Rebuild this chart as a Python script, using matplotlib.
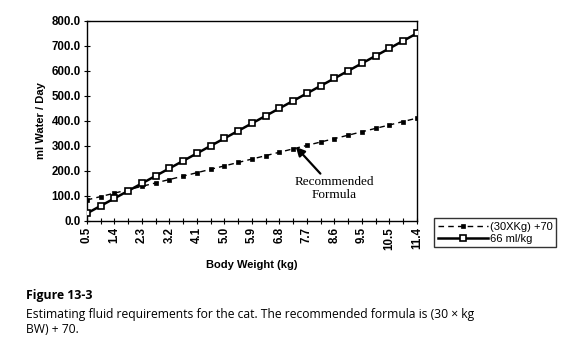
import matplotlib
matplotlib.use("Agg")
import matplotlib.pyplot as plt

# Body weight categories (kg) and the two fluid requirement series (ml/day)
tick_labels = ["0.5", "", "1.4", "", "2.3", "", "3.2", "", "4.1", "", "5.0", "", "5.9",
               "", "6.8", "", "7.7", "", "8.6", "", "9.5", "", "10.5", "", "11.4"]
formula_ml = [83.6, 97.3, 110.9, 124.5, 138.2, 151.8, 165.5, 179.1, 192.7, 206.4,
              220.0, 233.6, 247.3, 260.9, 274.5, 288.2, 301.8, 315.5, 329.1, 342.7,
              356.4, 370.0, 383.6, 397.3, 410.9]
per_kg_ml = [30.0, 60.0, 90.0, 120.0, 150.0, 180.0, 210.0, 240.0, 270.0, 300.0,
             330.0, 360.0, 390.0, 420.0, 450.0, 480.0, 510.0, 540.0, 570.0, 600.0,
             630.0, 660.0, 690.0, 720.0, 750.0]

plt.rcParams['font.family'] = ['Liberation Sans', 'DejaVu Sans']

fig = plt.figure(figsize=(5.83, 3.54), dpi=100)
ax = fig.add_axes([0.149, 0.376, 0.566, 0.565])

idx = list(range(len(tick_labels)))
l1, = ax.plot(idx, formula_ml, color='black', lw=1.0, ls=(0, (4, 3)),
              marker='s', markersize=2.4, markerfacecolor='black', markeredgewidth=0.5,
              label='(30XKg) +70')
l2, = ax.plot(idx, per_kg_ml, color='black', lw=1.8,
              marker='s', markersize=5, markerfacecolor='white', markeredgecolor='black',
              markeredgewidth=1.2, label='66 ml/kg', zorder=3)

ax.set_xlim(0, len(idx) - 1)
ax.set_ylim(0, 800)
ax.set_yticks(range(0, 801, 100))
ax.set_yticklabels([f"{v:.1f}" for v in range(0, 801, 100)], fontsize=8.3, fontweight='bold')
ax.set_xticks(idx)
ax.set_xticklabels(tick_labels, rotation=90, fontsize=8.3, fontweight='bold')
ax.tick_params(axis='both', direction='inout', length=5, width=0.8, pad=2)
for s in ax.spines.values():
    s.set_linewidth(1.0)

ax.set_ylabel('ml Water / Day', fontsize=8, fontweight='bold', labelpad=4)
ax.set_xlabel('Body Weight (kg)', fontsize=8, fontweight='bold', labelpad=7)

ax.annotate('Recommended\nFormula', xy=(15.2, 296), xytext=(18.0, 178),
            ha='center', va='top', fontsize=9.5, family='Liberation Serif',
            linespacing=1.1,
            arrowprops=dict(arrowstyle='-|>', color='black', lw=1.6,
                            mutation_scale=13, shrinkA=0, shrinkB=0))

fig.legend(handles=[l1, l2], loc='upper left', bbox_to_anchor=(0.745, 0.383),
           fontsize=8, frameon=True, fancybox=False, edgecolor='black',
           handlelength=4.5, handletextpad=0.2, borderpad=0.3, labelspacing=0.2,
           borderaxespad=0)

fig.text(0.045, 0.155, 'Figure 13-3', fontsize=8.8, fontweight='bold', family='Open Sans')
fig.text(0.045, 0.06, 'Estimating fluid requirements for the cat. The recommended formula is (30 \u00d7 kg\nBW) + 70.',
         fontsize=8.7, family='Open Sans', linespacing=1.15)

fig.savefig('out.png', dpi=100)
